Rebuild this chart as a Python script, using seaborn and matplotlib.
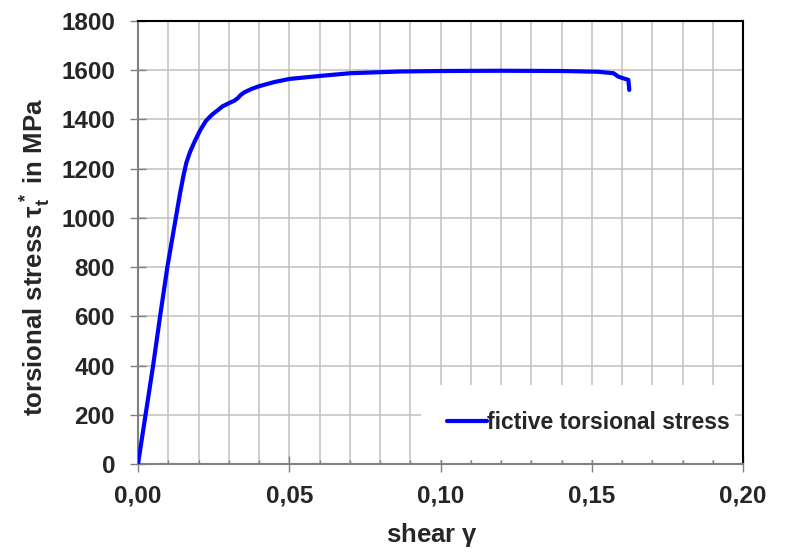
import matplotlib
matplotlib.use("Agg")
import matplotlib.pyplot as plt
import seaborn as sns
import pandas as pd
from matplotlib.ticker import MultipleLocator, FixedLocator, FuncFormatter

# ---- data ----
shear = [0.0, 0.0025, 0.0050, 0.0073, 0.0097, 0.0111, 0.0125, 0.0139, 0.0150,
         0.0160, 0.0172, 0.0187, 0.0205, 0.0225, 0.0245, 0.0263, 0.0279, 0.0300,
         0.0318, 0.0330, 0.0340, 0.0351, 0.0375, 0.0400, 0.0450, 0.0502, 0.0602,
         0.0701, 0.0866, 0.1000, 0.1200, 0.1400, 0.1520, 0.1572, 0.1588, 0.1605,
         0.1621, 0.1624]
stress = [0, 200, 400, 600, 800, 900, 1000, 1100, 1170,
          1225, 1268, 1310, 1355, 1395, 1420, 1437, 1453, 1466,
          1476, 1487, 1500, 1510, 1524, 1535, 1552, 1565, 1577,
          1588, 1595, 1597, 1598, 1597, 1594, 1588, 1574, 1567,
          1561, 1520]
x_ticks = [0.00, 0.05, 0.10, 0.15, 0.20]
y_ticks = [0, 200, 400, 600, 800, 1000, 1200, 1400, 1600, 1800]
series_name = "fictive torsional stress"

df = pd.DataFrame({"shear": shear, "stress": stress, "series": series_name})

sns.set_style("white")
plt.rcParams['font.family'] = ['Liberation Sans', 'DejaVu Sans']
plt.rcParams['font.weight'] = 'bold'
plt.rcParams['mathtext.fontset'] = 'custom'
plt.rcParams['mathtext.rm'] = 'Liberation Sans:bold'
plt.rcParams['mathtext.it'] = 'Liberation Sans:bold'
plt.rcParams['mathtext.bf'] = 'Liberation Sans:bold'

TICK_FS = 17.5
LABEL_FS = 18.5
LEG_FS = 16.5

fig = plt.figure(figsize=(7.85, 5.54), dpi=100)
ax = fig.add_axes([0.1758, 0.1625, 0.7707, 0.7995])

sns.lineplot(data=df, x="shear", y="stress", hue="series", palette=["#0000ff"],
             estimator=None, sort=False, linewidth=3, ax=ax, zorder=3)

ax.set_xlim(0, 0.20)
ax.set_ylim(0, 1800)
ax.xaxis.set_major_locator(FixedLocator(x_ticks))
ax.xaxis.set_minor_locator(MultipleLocator(0.01))
ax.yaxis.set_major_locator(FixedLocator(y_ticks))
ax.xaxis.set_major_formatter(FuncFormatter(lambda v, p: f"{v:.2f}".replace('.', ',')))

ax.grid(True, which='both', axis='x', color='#c0c0c0', linewidth=1.1, zorder=0)
ax.grid(True, which='major', axis='y', color='#c0c0c0', linewidth=1.1, zorder=0)
ax.set_axisbelow(True)

ax.tick_params(axis='y', which='major', direction='inout', length=11, width=1,
               color='#808080', labelsize=TICK_FS, pad=11, left=True)
ax.tick_params(axis='x', which='major', direction='inout', length=11, width=1,
               color='#808080', labelsize=TICK_FS, pad=9, bottom=True)
ax.tick_params(axis='x', which='minor', direction='in', length=3, width=1,
               color='#808080', bottom=True)
for lab in ax.get_xticklabels() + ax.get_yticklabels():
    lab.set_fontweight('bold')

for s in ['left', 'bottom']:
    ax.spines[s].set_color('#808080')
    ax.spines[s].set_linewidth(1.5)
for s in ['top', 'right']:
    ax.spines[s].set_color('black')
    ax.spines[s].set_linewidth(1.5)
    ax.spines[s].set_visible(True)

ax.set_xlabel(r"shear $\gamma$", fontsize=LABEL_FS, fontweight='bold', labelpad=10)
ax.set_ylabel(r"torsional stress $\tau_t^*$ in MPa", fontsize=LABEL_FS,
              fontweight='bold', labelpad=6)
ax.xaxis.label.set_x(0.486)
ax.yaxis.label.set_y(0.467)

leg = ax.legend(loc='lower left', bbox_to_anchor=(0.468, 0.009, 0.519, 0.169),
                mode='expand', frameon=True, fancybox=False, framealpha=1,
                edgecolor='white', facecolor='white',
                handlelength=1.75, handletextpad=0.0,
                borderpad=1.13, borderaxespad=0,
                prop={'weight': 'bold', 'size': LEG_FS})
leg.get_frame().set_linewidth(0)
for l in leg.get_lines():
    l.set_linewidth(3)

fig.savefig("out.png", dpi=100)
